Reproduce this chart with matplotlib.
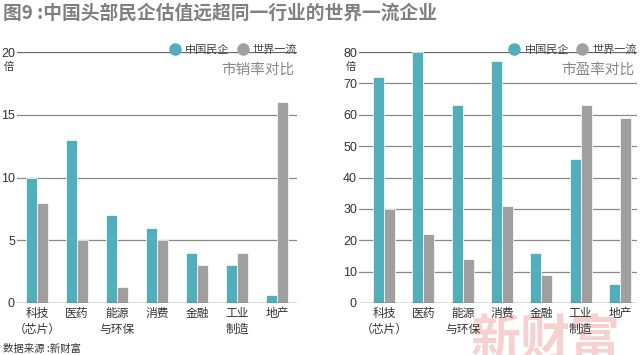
import matplotlib
matplotlib.use('Agg')
import matplotlib.pyplot as plt
import numpy as np
from matplotlib.lines import Line2D

plt.rcParams['font.family'] = ['Noto Sans CJK SC', 'DejaVu Sans']

categories = ['科技\n（芯片）', '医药', '能源\n与环保', '消费', '金融', '工业\n制造', '地产']
ps_china = [10, 13, 7, 6, 4, 3, 0.6]
ps_world = [8, 5, 1.3, 5, 3, 4, 16]
pe_china = [72, 80, 63, 77, 16, 46, 6]
pe_world = [30, 22, 14, 31, 9, 63, 59]
ps_ticks = [0, 5, 10, 15, 20]
pe_ticks = [0, 10, 20, 30, 40, 50, 60, 70, 80]

teal = '#52AEBA'
gray = '#A0A0A0'
txt = '#333333'
num_font = ['Liberation Sans Narrow', 'Liberation Sans', 'DejaVu Sans']

fig = plt.figure(figsize=(6.4, 3.55), dpi=100)
ax1 = fig.add_axes([0.0266, 0.1465, 0.4375, 0.707])
ax2 = fig.add_axes([0.561, 0.1465, 0.434, 0.707])


def draw(ax, china, world, ticks, top, xlim, subtitle):
    x = np.arange(len(categories))
    w = 0.28
    ax.set_facecolor('none')
    for t in ticks[1:]:
        ax.axhline(t, color='#8a8a8a' if t != top else '#666666', lw=0.9, zorder=1)
    ax.axhline(0, color='#555555', lw=1.0, zorder=3)
    ax.bar(x - w / 2, china, w, color=teal, edgecolor='white', linewidth=0.5, zorder=2)
    ax.bar(x + w / 2, world, w, color=gray, edgecolor='white', linewidth=0.5, zorder=2)
    ax.set_xlim(*xlim)
    ax.set_ylim(0, top)
    ax.set_yticks(ticks)
    ax.set_yticklabels([str(t) for t in ticks], fontfamily=num_font, fontsize=9, color=txt)
    ax.set_xticks(x)
    ax.set_xticklabels(categories, fontsize=8.5, color=txt, linespacing=1.3)
    ax.tick_params(axis='y', length=0, pad=1.5)
    ax.tick_params(axis='x', length=0, pad=3)
    for s in ax.spines.values():
        s.set_visible(False)
    ax.text(-0.012, 0.94, '倍', transform=ax.transAxes, ha='right', va='center',
            fontsize=7.5, color=txt)
    ax.text(0.99, 0.93, subtitle, transform=ax.transAxes, ha='right', va='center',
            fontsize=10.5, color='#888888')
    handles = [Line2D([], [], marker='o', ls='', color=teal, markersize=8),
               Line2D([], [], marker='o', ls='', color=gray, markersize=8)]
    ax.legend(handles, ['中国民企', '世界一流'], loc='lower right',
              bbox_to_anchor=(1.0, 0.99), ncol=2, frameon=False, fontsize=8,
              handletextpad=-0.1, columnspacing=0.2, borderpad=0, borderaxespad=0,
              labelcolor='#444444')


draw(ax1, ps_china, ps_world, ps_ticks, 20, (-0.5, 6.5), '市销率对比')
draw(ax2, pe_china, pe_world, pe_ticks, 80, (-0.64, 6.43), '市盈率对比')

fig.text(0.735, -0.035, '新财富', fontsize=36, color='#F3B3B3', alpha=0.6,
         fontweight='bold', ha='left', va='bottom', zorder=-1)
fig.text(0.004, 0.99, '图9 :中国头部民企估值远超同一行业的世界一流企业', fontsize=13.5,
         fontweight='bold', color='#808080', ha='left', va='top')
fig.text(0.004, 0.018, '数据来源 :新财富', fontsize=7.5, color=txt, ha='left', va='center')

fig.savefig('out.png', dpi=100)
